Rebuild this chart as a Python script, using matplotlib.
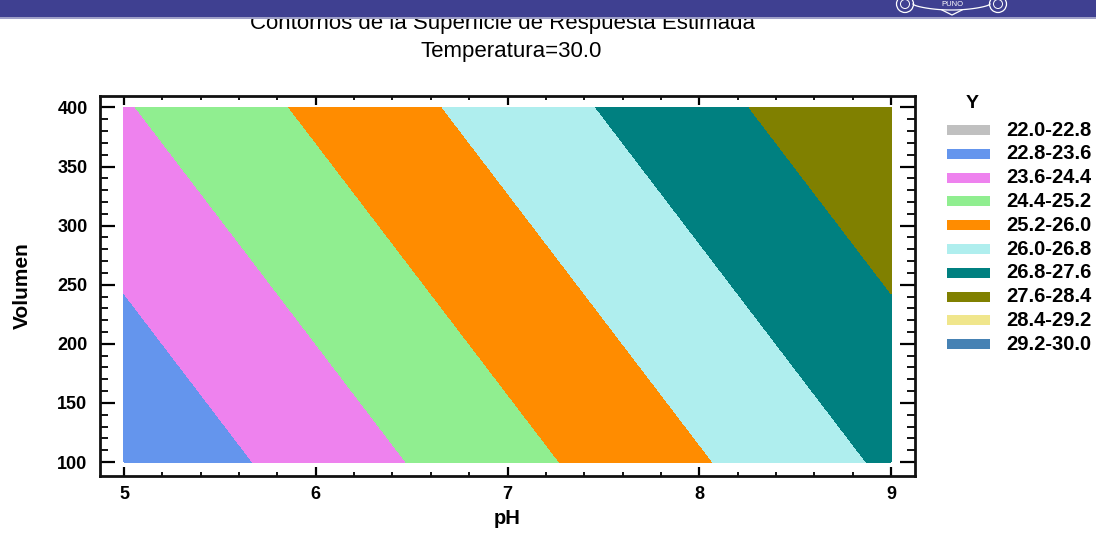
import matplotlib
matplotlib.use("Agg")
import matplotlib.pyplot as plt
import numpy as np
from matplotlib.patches import Rectangle, Ellipse

# Estimated response surface sampled on a coarse grid (Temperatura = 30.0)
ph_values = [5.0, 6.0, 7.0, 8.0, 9.0]
volumen_values = [100.0, 200.0, 300.0, 400.0]
y_grid = [
    [22.93, 23.93, 24.93, 25.93, 26.93],   # Volumen 100
    [23.40, 24.40, 25.40, 26.40, 27.40],   # Volumen 200
    [23.87, 24.87, 25.87, 26.87, 27.87],   # Volumen 300
    [24.34, 25.34, 26.34, 27.34, 28.34],   # Volumen 400
]

# Contour bands
level_edges = [22.0, 22.8, 23.6, 24.4, 25.2, 26.0, 26.8, 27.6, 28.4, 29.2, 30.0]
band_colors = ["#C0C0C0", "#6495ED", "#EE82EE", "#90EE90", "#FF8C00",
               "#AFEEEE", "#008080", "#808000", "#F0E68C", "#4682B4"]

x_ticks = [5, 6, 7, 8, 9]
y_ticks = [100, 150, 200, 250, 300, 350, 400]

FONT = ["Liberation Sans", "DejaVu Sans"]
plt.rcParams["font.family"] = FONT
plt.rcParams["font.weight"] = "bold"

W, H = 1096, 533
fig = plt.figure(figsize=(W / 100, H / 100), dpi=100)


def fx(px):
    return px / W


def fy(py):
    return 1 - py / H


# Header band with emblem
fig.patches.append(Rectangle((0, fy(17.5)), 1, 17.5 / H, transform=fig.transFigure,
                             facecolor="#3F4091", edgecolor="none", zorder=5))
fig.patches.append(Rectangle((0, fy(18.7)), 1, 1.2 / H, transform=fig.transFigure,
                             facecolor="#9FA0C8", edgecolor="none", zorder=5))
for cx in (905, 998):
    fig.patches.append(Ellipse((fx(cx), fy(4)), 17 / W, 17 / H, transform=fig.transFigure,
                               facecolor="none", edgecolor="white", linewidth=0.9,
                               zorder=6))
    fig.patches.append(Ellipse((fx(cx), fy(4)), 9 / W, 9 / H, transform=fig.transFigure,
                               facecolor="none", edgecolor="white", linewidth=0.7,
                               zorder=6))
rib_x = np.linspace(913, 990, 60)
rib_y = 4 + 6 * np.sin(np.pi * (rib_x - 913) / 77) ** 0.6
fig.add_artist(plt.Line2D([fx(v) for v in rib_x], [fy(v) for v in rib_y],
                          transform=fig.transFigure, color="white", lw=0.9, zorder=6))
fig.add_artist(plt.Line2D([fx(942), fx(952), fx(962)], [fy(10), fy(15), fy(10)],
                          transform=fig.transFigure, color="white", lw=0.9, zorder=6))
fig.text(fx(952), fy(5), "PUNO", ha="center", va="center", fontsize=5.5,
         color="white", fontweight="normal", zorder=7)

fig.text(fx(503), fy(28.5), "Contornos de la Superficie de Respuesta Estimada",
         ha="center", va="baseline", fontsize=16, fontweight="normal", zorder=1)
fig.text(fx(511), fy(56.5), "Temperatura=30.0",
         ha="center", va="baseline", fontsize=16, fontweight="normal", zorder=1)

# Main axes
left, right, top, bottom = 100, 915, 96, 476
ax = fig.add_axes([fx(left), fy(bottom), (right - left) / W, (bottom - top) / H])

X, Y = np.meshgrid(ph_values, volumen_values)
Z = np.array(y_grid)
ax.contourf(X, Y, Z, levels=level_edges, colors=band_colors, antialiased=False)

ax.set_xlim(4.875, 9.125)
ax.set_ylim(88.2, 409.7)
ax.set_xticks(x_ticks)
ax.set_yticks(y_ticks)
ax.set_xticks(np.arange(5, 9.01, 0.2), minor=True)
ax.set_yticks(np.arange(100, 400.1, 10), minor=True)
ax.set_xticklabels([str(v) for v in x_ticks])
ax.set_yticklabels([str(v) for v in y_ticks])

for s in ax.spines.values():
    s.set_linewidth(2.0)
    s.set_color("#111111")

ax.tick_params(axis="y", which="major", direction="in", length=10.5, width=1.6,
               left=True, right=True, labelsize=13, pad=9)
ax.tick_params(axis="y", which="minor", direction="in", length=5.5, width=1.3,
               left=True, right=True)
ax.tick_params(axis="x", which="major", direction="in", length=6.5, width=1.6,
               bottom=True, top=True, labelsize=13, pad=7)
ax.tick_params(axis="x", which="minor", direction="in", length=3, width=1.3,
               bottom=True, top=True)

ax.set_xlabel("pH", fontsize=14.5, fontweight="bold", va="center")
ax.xaxis.set_label_coords(0.5, (bottom - 519) / (bottom - top))
ax.set_ylabel("Volumen", fontsize=15, fontweight="bold", va="center")
ax.yaxis.set_label_coords((22 - left) / (right - left), 0.5)

# Legend
fig.text(fx(972), fy(104), "Y", ha="center", va="center", fontsize=14, fontweight="bold")
row0, step = 130.0, 23.8
for i, c in enumerate(band_colors):
    yc = row0 + i * step
    fig.patches.append(Rectangle((fx(947), fy(yc + 5)), 43 / W, 10 / H,
                                 transform=fig.transFigure, facecolor=c,
                                 edgecolor="none"))
    lab = f"{level_edges[i]:.1f}-{level_edges[i + 1]:.1f}"
    fig.text(fx(1006), fy(yc), lab, ha="left", va="center", fontsize=14.5,
             fontweight="bold")

fig.savefig("out.png", dpi=100)
